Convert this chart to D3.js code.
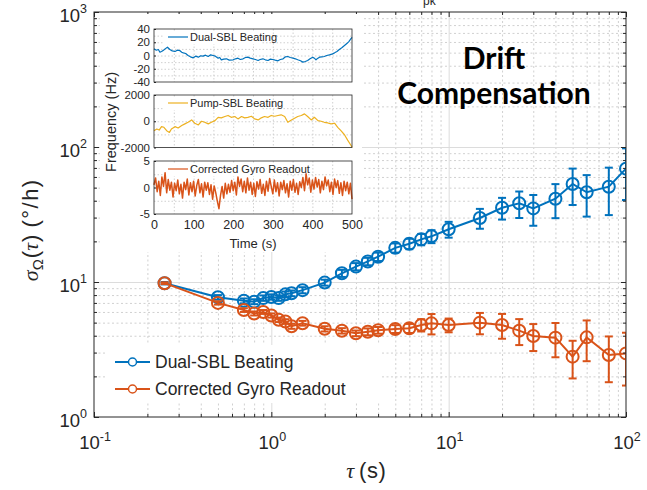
<!DOCTYPE html>
<html>
<head>
<meta charset="utf-8">
<script src="https://cdn.jsdelivr.net/npm/d3@7"></script>
<style>
body { margin: 0; background: #fff; }
svg { display: block; font-family: "Liberation Sans", Arial, sans-serif; }
</style>
</head>
<body>
<div id="chart-container"></div>
<script>
//allan deviatie data (tau in s, sigma in graden/h)
const tau = [0.25, 0.5, 0.7, 0.8, 0.9, 1.0, 1.1, 1.2, 1.3, 1.5, 2, 2.5, 3, 3.5, 4, 5, 6, 7, 8, 10, 15, 20, 25, 30, 40, 50, 60, 80, 100]
const dualSbl = [9.8, 7.7, 7.25, 7.15, 7.6, 7.75, 7.6, 8.1, 8.25, 8.7, 9.9, 11.6, 13.0, 14.2, 15.4, 17.9, 19.2, 20.7, 21.8, 24.6, 29.8, 35.5, 38.3, 35.1, 41.4, 53.2, 46.2, 50.8, 69.1]
const dualSblErr = [0.2, 0.3, 0.3, 0.3, 0.35, 0.35, 0.35, 0.4, 0.4, 0.45, 0.5, 0.7, 0.8, 0.9, 1.1, 1.4, 1.7, 2.0, 2.4, 3.3, 5.0, 6.5, 8.5, 9.0, 11.7, 16, 15.7, 19.5, 28.6]
const corrected = [9.8, 7.0, 6.2, 5.85, 6.0, 5.65, 5.25, 5.1, 4.7, 4.95, 4.5, 4.35, 4.17, 4.28, 4.39, 4.49, 4.54, 4.8, 4.94, 4.8, 5.0, 4.8, 4.36, 3.98, 3.87, 2.80, 3.89, 2.88, 2.96]
const correctedErr = [0.15, 0.2, 0.2, 0.2, 0.2, 0.2, 0.2, 0.2, 0.2, 0.2, 0.2, 0.2, 0.2, 0.25, 0.25, 0.3, 0.35, 0.5, 0.85, 0.56, 0.9, 1.0, 0.95, 0.9, 1.1, 0.87, 1.3, 1.07, 1.25]

//tick labels (exponenten van 10)
const xTickExp = [-1, 0, 1, 2]
const yTickExp = [0, 1, 2, 3]
const seriesNames = ['Dual-SBL Beating', 'Corrected Gyro Readout']

//inset data: [tijd (s), frequentie (Hz)]
const dualTrace = [[0, 10], [6, 8], [11, 9], [15, 5], [19, 6], [24, 8], [28, 10], [34, 12.5], [40, 9], [46, 7], [53, 6], [59, 8], [65, 7.5], [70, 5], [74, 4], [80, 3], [86, 0], [92, -2], [99, -3.5], [105, -1], [112, -2.5], [118, -0.5], [124, -1], [130, 0.5], [137, -1.5], [143, 1], [149, 0], [155, -1], [162, -4], [166, -3], [170, -6.5], [176, -5.5], [183, -5], [190, -7], [200, -6.5], [206, -5], [212, -4], [218, -6], [225, -5], [231, -3], [237, -2.5], [243, -4], [250, -5], [256, -6], [263, -7.5], [268, -6], [275, -5], [281, -6.5], [288, -7.5], [294, -5.5], [300, -6], [306, -7], [313, -8], [319, -6], [326, -5], [332, -2], [338, -1.5], [344, -3], [351, -4], [357, -5], [363, -6.5], [370, -8], [376, -10], [382, -9], [388, -7.5], [394, -5], [401, -2.5], [405, -4], [409, -6.5], [414, -4], [418, -2.5], [424, -2], [430, -1.5], [436, 0], [443, 1], [449, 2], [456, 4], [462, 6], [468, 9], [475, 12], [481, 15], [487, 18], [492, 21], [497, 25], [500, 27.5]]
const pumpTrace = [[0, -720], [7, -590], [13, -670], [19, -410], [25, -460], [32, -720], [39, -850], [44, -590], [53, -410], [61, -510], [70, -330], [78, -200], [86, -80], [95, 100], [103, -150], [112, -280], [120, 0], [128, -80], [137, -200], [145, -80], [154, 50], [162, 300], [170, 260], [179, 360], [187, 440], [195, 300], [204, 360], [212, 180], [221, 360], [229, 260], [237, 300], [246, 380], [254, 180], [263, 100], [271, 260], [279, 360], [288, 300], [296, 440], [305, 380], [313, 440], [321, 490], [330, 360], [338, -80], [347, 100], [355, 230], [363, 360], [372, 440], [380, 560], [388, 360], [397, 100], [405, 300], [414, 50], [422, 0], [430, -80], [439, -130], [447, -200], [456, -150], [464, -460], [472, -720], [481, -1030], [489, -1440], [498, -1870], [500, -2000]]
//gyro readout, een waarde per 4 s
const gyroStep = 4
const gyroTrace = [
    0.5, 1.8, -0.8, 1.2, -1.5, 2.0, 0.2, 2.8, -1.0, 1.5,
    -0.5, 1.0, -1.8, 0.8, -0.6, 1.4, -1.2, 0.6, -2.0, 1.0,
    -0.4, 1.6, -1.4, 0.9, -0.8, 1.2, -1.6, 0.4, 1.5, -1.0,
    0.7, -1.8, 1.0, -0.5, 0.9, -1.3, 0.5, -2.2, 0.3, -1.0,
    -2.6, -4.0, -1.5, 0.2, -2.0, 0.8, -1.2, 0.6, -0.9, 1.3,
    -0.6, 1.0, -1.4, 2.0, 0.2, 1.6, -0.8, 1.2, -1.0, 1.8,
    -0.5, 1.0, -1.3, 0.8, -1.7, 1.1, -0.3, 1.5, -1.1, 0.6,
    -1.5, 1.2, -0.7, 1.7, 0.2, -1.2, 1.4, -0.8, 0.9, -1.6,
    1.0, -0.4, 1.3, -1.0, 0.7, -1.8, 1.2, -0.5, 1.5, -0.9,
    0.8, -1.3, 1.1, 0.0, 1.9, -0.6, 2.6, 0.5, 1.8, -0.9,
    1.4, -0.3, 1.9, 0.1, 1.5, -1.0, 1.2, -0.4, 2.0, 0.3,
    1.4, -0.8, 1.0, -1.3, 1.6, 0.0, 1.3, -1.1, 0.9, -1.5,
    1.2, -0.6, 1.0, -1.2, 0.8, -2.2
]
const insetTimeTicks = [0, 100, 200, 300, 400, 500]

//kleuren (matlab standaard)
const blue = '#0072BD'
const orange = '#D95319'
const yellow = '#EDB120'
const axisColor = '#262626'

//settings
const chartContainer = d3.select('#chart-container')
const width = 647
const height = 490
const margin = { top: 12, right: 21, bottom: 73, left: 94 }
const innerWidth = width - margin.left - margin.right
const innerHeight = height - margin.top - margin.bottom

const xScale = d3.scaleLog().domain([0.1, 100]).range([0, innerWidth])
const yScale = d3.scaleLog().domain([1, 1000]).range([innerHeight, 0])

//minor waardes per decade
function logTicks(domain) {
    const out = []
    for (let e = Math.log10(domain[0]); e < Math.log10(domain[1]); e++) {
        for (let k = 2; k <= 9; k++) out.push(k * Math.pow(10, e))
    }
    return out
}

//tekst uit losse stukken (super/subscript) naast elkaar zetten
function richText(parent, x, y, parts, anchor) {
    const grp = parent.append('g')
    let cx = 0
    parts.forEach(p => {
        const t = grp.append('text')
            .attr('x', cx)
            .attr('y', y + (p.dy || 0))
            .attr('fill', axisColor)
            .style('font-size', p.size + 'px')
            .style('letter-spacing', (p.spacing || 0) + 'px')
            .text(p.text)
        if (p.serif) t.style('font-family', '"Liberation Serif", serif').style('font-style', 'italic')
        cx += t.node().getComputedTextLength() + (p.spacing || 0) * p.text.length + (p.gap || 0)
    })
    const shift = anchor === 'middle' ? cx / 2 : anchor === 'end' ? cx : 0
    grp.attr('transform', `translate(${x - shift}, 0)`)
    return grp
}

const svg = chartContainer.append('svg')
    .attr('width', width)
    .attr('height', height)

svg.append('defs').append('clipPath').attr('id', 'plot-clip')
    .append('rect').attr('width', innerWidth).attr('height', innerHeight)

const g = svg.append('g')
    .attr('transform', `translate(${margin.left}, ${margin.top})`)

const xMajor = xTickExp.map(e => Math.pow(10, e))
const yMajor = yTickExp.map(e => Math.pow(10, e))
const xMinor = logTicks(xScale.domain())
const yMinor = logTicks(yScale.domain())

//alleen de tick lijnen van een as houden
const linesOnly = a => {
    a.select('.domain').remove()
    a.selectAll('text').remove()
}

//grid (minor gestippeld, major doorgetrokken)
const grid = g.append('g')
grid.append('g').call(d3.axisBottom(xScale).tickValues(xMinor).tickSize(innerHeight).tickFormat(''))
    .call(linesOnly)
    .selectAll('line').attr('stroke', '#d0d0d0').attr('stroke-dasharray', '2,2.5')
grid.append('g').call(d3.axisRight(yScale).tickValues(yMinor).tickSize(innerWidth).tickFormat(''))
    .call(linesOnly)
    .selectAll('line').attr('stroke', '#d0d0d0').attr('stroke-dasharray', '2,2.5')
grid.append('g').call(d3.axisBottom(xScale).tickValues(xMajor.slice(1, -1)).tickSize(innerHeight).tickFormat(''))
    .call(linesOnly)
    .selectAll('line').attr('stroke', '#dcdcdc')
grid.append('g').call(d3.axisRight(yScale).tickValues(yMajor.slice(1, -1)).tickSize(innerWidth).tickFormat(''))
    .call(linesOnly)
    .selectAll('line').attr('stroke', '#dcdcdc')

//legenda achtergrond (verbergt grid)
g.append('rect')
    .attr('x', 12).attr('y', 333).attr('width', 275).attr('height', 58)
    .attr('fill', '#fff')

//series met foutbalken
function drawSeries(values, errs, color) {
    const data = tau.map((t, i) => ({ t, v: values[i], e: errs[i] }))
    const sg = g.append('g').attr('clip-path', 'url(#plot-clip)')
    sg.append('path')
        .datum(data)
        .attr('fill', 'none')
        .attr('stroke', color)
        .attr('stroke-width', 2)
        .attr('d', d3.line().x(d => xScale(d.t)).y(d => yScale(d.v)))
    const bars = sg.selectAll('.bar').data(data).enter().append('g')
        .attr('stroke', color).attr('stroke-width', 2).attr('fill', 'none')
    bars.append('line')
        .attr('x1', d => xScale(d.t)).attr('x2', d => xScale(d.t))
        .attr('y1', d => yScale(d.v + d.e)).attr('y2', d => yScale(Math.max(d.v - d.e, 0.5)))
    bars.append('line')
        .attr('x1', d => xScale(d.t) - 4).attr('x2', d => xScale(d.t) + 4)
        .attr('y1', d => yScale(d.v + d.e)).attr('y2', d => yScale(d.v + d.e))
    bars.append('line')
        .attr('x1', d => xScale(d.t) - 4).attr('x2', d => xScale(d.t) + 4)
        .attr('y1', d => yScale(Math.max(d.v - d.e, 0.5))).attr('y2', d => yScale(Math.max(d.v - d.e, 0.5)))
    bars.append('circle')
        .attr('cx', d => xScale(d.t)).attr('cy', d => yScale(d.v))
        .attr('r', 6)
}
drawSeries(dualSbl, dualSblErr, blue)
drawSeries(corrected, correctedErr, orange)

//assen: kader en ticks naar binnen
g.append('rect')
    .attr('width', innerWidth).attr('height', innerHeight)
    .attr('fill', 'none').attr('stroke', axisColor).attr('stroke-width', 1)

function inwardTicks(axisFn, scale, values, size, transform) {
    g.append('g').attr('transform', transform)
        .call(axisFn(scale).tickValues(values).tickSize(size).tickFormat(''))
        .call(linesOnly)
        .selectAll('line').attr('stroke', axisColor)
}
inwardTicks(d3.axisBottom, xScale, xMajor, -5, `translate(0, ${innerHeight})`)
inwardTicks(d3.axisBottom, xScale, xMinor, -3, `translate(0, ${innerHeight})`)
inwardTicks(d3.axisTop, xScale, xMajor, -5, 'translate(0, 0)')
inwardTicks(d3.axisTop, xScale, xMinor, -3, 'translate(0, 0)')
inwardTicks(d3.axisLeft, yScale, yMajor, -5, 'translate(0, 0)')
inwardTicks(d3.axisLeft, yScale, yMinor, -3, 'translate(0, 0)')
inwardTicks(d3.axisRight, yScale, yMajor, -5, `translate(${innerWidth}, 0)`)
inwardTicks(d3.axisRight, yScale, yMinor, -3, `translate(${innerWidth}, 0)`)

//tick labels 10^n
xTickExp.forEach(e => {
    richText(g, xScale(Math.pow(10, e)) + 1, innerHeight + 32, [
        { text: '10', size: 18.5 },
        { text: String(e), size: 12.5, dy: -8 }
    ], 'middle')
})
yTickExp.forEach(e => {
    richText(g, -7, yScale(Math.pow(10, e)) + 10, [
        { text: '10', size: 18.5 },
        { text: String(e), size: 12.5, dy: -9 }
    ], 'end')
})

//as labels
richText(svg, 367, 478, [
    { text: 'τ', size: 22, serif: true, gap: 5 },
    { text: '(s)', size: 22, spacing: 0.5 }
], 'middle')

const yLabel = svg.append('g').attr('transform', 'translate(38, 226) rotate(-90)')
richText(yLabel, 0, 0, [
    { text: 'σ', size: 22, serif: true },
    { text: 'Ω', size: 15, dy: 5, gap: 1 },
    { text: '(', size: 22 },
    { text: 'τ', size: 22, serif: true, gap: 1 },
    { text: ')', size: 22, gap: 7 },
    { text: '(°/h)', size: 22, spacing: 1.5 }
], 'middle')

//afgesneden tekst bovenaan
svg.append('text').attr('x', 423).attr('y', 5)
    .attr('fill', axisColor).style('font-size', '12px').text('pk')

//drift compensation tekst
const note = svg.append('g')
    .style('font-family', 'Lato, "Open Sans", sans-serif')
    .style('font-weight', 'bold')
    .style('font-size', '30px')
note.append('text').attr('x', 494).attr('y', 69).attr('text-anchor', 'middle').text('Drift')
note.append('text').attr('x', 494).attr('y', 104).attr('text-anchor', 'middle').text('Compensation')

//legenda
const legend = g.append('g').attr('transform', 'translate(21, 0)')
;[dualSbl, corrected].forEach((s, i) => {
    const color = i === 0 ? blue : orange
    const ly = 350 + i * 27
    legend.append('line')
        .attr('x1', 0).attr('x2', 35).attr('y1', ly).attr('y2', ly)
        .attr('stroke', color).attr('stroke-width', 2)
    legend.append('circle')
        .attr('cx', 17.5).attr('cy', ly).attr('r', 4)
        .attr('fill', '#fff').attr('stroke', color).attr('stroke-width', 1.5)
    legend.append('text')
        .attr('x', 40).attr('y', ly + 6)
        .attr('fill', axisColor)
        .style('font-size', '17.5px')
        .text(seriesNames[i])
})

//inset met tijdreeksen
const inset = svg.append('g')
inset.append('rect')
    .attr('x', 100).attr('y', 14).attr('width', 262).attr('height', 238)
    .attr('fill', '#fff')

const insetX = d3.scaleLinear().domain([0, 500]).range([154, 352])
const panels = [
    { data: dualTrace, color: blue, name: 'Dual-SBL Beating', domain: [-40, 40], range: [82, 29], ticks: [-40, -20, 0, 20, 40], grid: [-30, -20, -10, 0, 10, 20, 30] },
    { data: pumpTrace, color: yellow, name: 'Pump-SBL Beating', domain: [-2000, 2000], range: [147.5, 95], ticks: [-2000, 0, 2000], grid: [-1000, 0, 1000] },
    { data: gyroTrace, color: orange, name: 'Corrected Gyro Readout', domain: [-5, 5], range: [214, 161], ticks: [-5, 0, 5], grid: [-2.5, 0, 2.5] }
]
const insetGrid = [50, 100, 150, 200, 250, 300, 350, 400, 450]

panels.forEach((p, i) => {
    const py = d3.scaleLinear().domain(p.domain).range(p.range)
    const pg = inset.append('g')
    //grid
    pg.append('g').attr('transform', `translate(0, ${p.range[1]})`)
        .call(d3.axisBottom(insetX).tickValues(insetGrid).tickSize(p.range[0] - p.range[1]).tickFormat(''))
        .call(linesOnly)
        .selectAll('line').attr('stroke', '#d0d0d0').attr('stroke-dasharray', '1.5,2')
    pg.append('g').attr('transform', `translate(${insetX(0)}, 0)`)
        .call(d3.axisRight(py).tickValues(p.grid).tickSize(insetX(500) - insetX(0)).tickFormat(''))
        .call(linesOnly)
        .selectAll('line').attr('stroke', '#d0d0d0').attr('stroke-dasharray', '1.5,2')
    //legenda achtergrond
    pg.append('rect')
        .attr('x', 163).attr('y', p.range[1] + 2).attr('width', i === 2 ? 124 : 98).attr('height', 13)
        .attr('fill', '#fff')
    //lijn
    const line = i === 2
        ? d3.line().x((d, j) => insetX(j * gyroStep)).y(d => py(d))
        : d3.line().x(d => insetX(d[0])).y(d => py(d[1]))
    pg.append('path')
        .datum(p.data)
        .attr('fill', 'none')
        .attr('stroke', p.color)
        .attr('stroke-width', i === 2 ? 1.5 : 1.2)
        .attr('stroke-linejoin', 'round')
        .attr('d', line)
    //kader
    pg.append('rect')
        .attr('x', insetX(0)).attr('y', p.range[1])
        .attr('width', insetX(500) - insetX(0)).attr('height', p.range[0] - p.range[1])
        .attr('fill', 'none').attr('stroke', axisColor).attr('stroke-width', 0.8)
    //y ticks
    pg.append('g').attr('transform', `translate(${insetX(0)}, 0)`)
        .call(d3.axisLeft(py).tickValues(p.ticks).tickSize(-2).tickPadding(4).tickFormat(d => d))
        .call(a => a.select('.domain').remove())
        .call(a => a.selectAll('line').attr('stroke', axisColor))
        .selectAll('text')
        .attr('fill', axisColor)
        .style('font-size', '11.5px')
        .style('font-family', '"Liberation Sans", Arial, sans-serif')
    //legenda
    pg.append('line')
        .attr('x1', 168).attr('x2', 188).attr('y1', p.range[1] + 8).attr('y2', p.range[1] + 8)
        .attr('stroke', p.color).attr('stroke-width', 1.2)
    pg.append('text')
        .attr('x', 190).attr('y', p.range[1] + 12)
        .attr('fill', axisColor)
        .style('font-size', '11px')
        .text(p.name)
})

//inset x as
inset.append('g').attr('transform', 'translate(0, 214)')
    .call(d3.axisBottom(insetX).tickValues(insetTimeTicks).tickSize(0).tickPadding(6).tickFormat(d => d))
    .call(a => a.select('.domain').remove())
    .selectAll('text')
    .attr('fill', axisColor)
    .style('font-size', '12.5px')
    .style('font-family', '"Liberation Sans", Arial, sans-serif')

inset.append('text')
    .attr('x', 253).attr('y', 248)
    .attr('text-anchor', 'middle')
    .attr('fill', axisColor)
    .style('font-size', '13px')
    .text('Time (s)')

inset.append('text')
    .attr('transform', 'translate(115.5, 122) rotate(-90)')
    .attr('text-anchor', 'middle')
    .attr('fill', axisColor)
    .style('font-size', '14.5px')
    .text('Frequency (Hz)')
</script>
</body>
</html>
